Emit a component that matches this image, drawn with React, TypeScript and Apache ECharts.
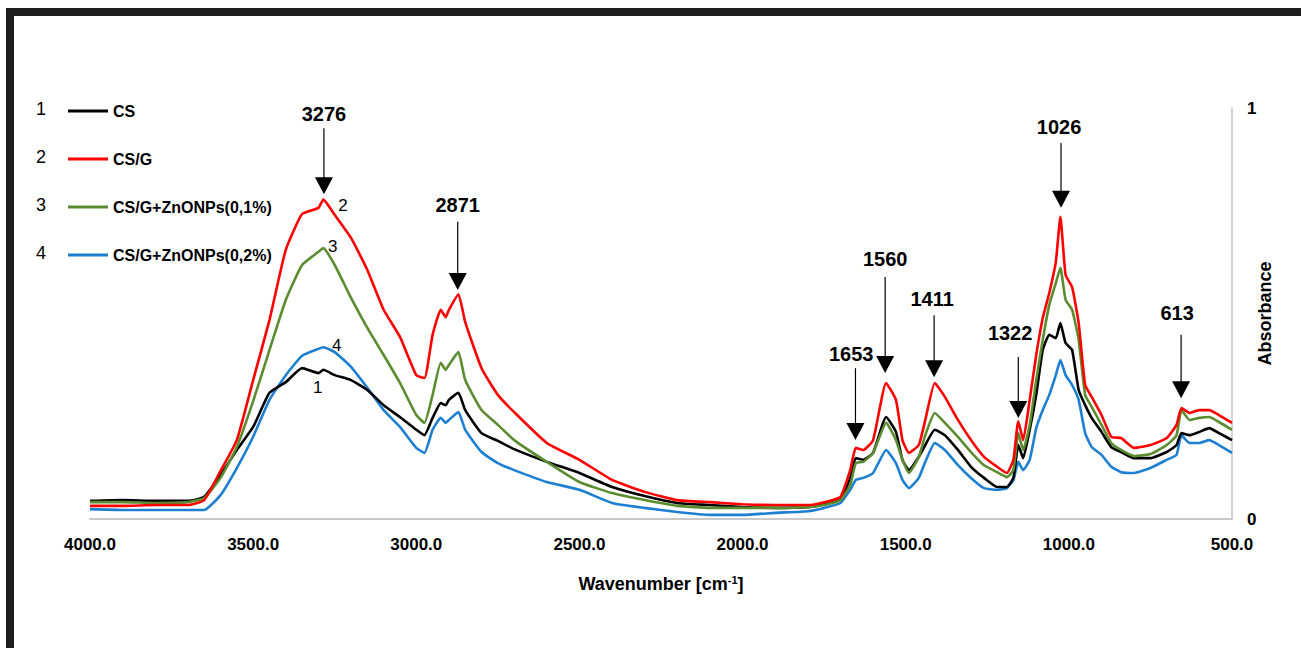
import React, { useEffect, useRef } from "react";
import * as echarts from "echarts";

const wavenumbers = [4000, 3900, 3800, 3700, 3650, 3600, 3550, 3500, 3450, 3400, 3350, 3300, 3285, 3250, 3200, 3150, 3100, 3050, 3000, 2975, 2950, 2925, 2910, 2900, 2871, 2850, 2800, 2750, 2700, 2600, 2500, 2400, 2300, 2200, 2100, 2000, 1900, 1800, 1750, 1700, 1670, 1653, 1630, 1600, 1560, 1530, 1510, 1490, 1460, 1440, 1411, 1380, 1340, 1300, 1260, 1220, 1190, 1170, 1155, 1140, 1120, 1100, 1080, 1060, 1040, 1026, 1010, 990, 970, 950, 930, 900, 870, 840, 800, 750, 700, 670, 655, 630, 600, 570, 540, 500];

const csValues = [0.044, 0.046, 0.044, 0.044, 0.054, 0.107, 0.168, 0.224, 0.307, 0.333, 0.367, 0.355, 0.363, 0.350, 0.338, 0.314, 0.277, 0.248, 0.217, 0.204, 0.246, 0.282, 0.277, 0.290, 0.307, 0.265, 0.209, 0.190, 0.170, 0.139, 0.112, 0.078, 0.056, 0.039, 0.034, 0.029, 0.027, 0.029, 0.036, 0.049, 0.100, 0.148, 0.144, 0.161, 0.248, 0.212, 0.144, 0.119, 0.151, 0.180, 0.217, 0.204, 0.168, 0.127, 0.100, 0.078, 0.078, 0.100, 0.180, 0.148, 0.217, 0.302, 0.411, 0.448, 0.440, 0.477, 0.428, 0.411, 0.314, 0.277, 0.246, 0.212, 0.175, 0.163, 0.148, 0.148, 0.163, 0.180, 0.209, 0.204, 0.212, 0.221, 0.209, 0.192];

const csgValues = [0.032, 0.032, 0.034, 0.034, 0.046, 0.117, 0.192, 0.338, 0.484, 0.655, 0.742, 0.757, 0.777, 0.740, 0.684, 0.606, 0.509, 0.443, 0.350, 0.343, 0.448, 0.509, 0.491, 0.509, 0.547, 0.479, 0.367, 0.302, 0.260, 0.185, 0.144, 0.095, 0.066, 0.046, 0.041, 0.036, 0.034, 0.034, 0.041, 0.054, 0.119, 0.173, 0.168, 0.192, 0.331, 0.290, 0.192, 0.161, 0.180, 0.241, 0.331, 0.297, 0.241, 0.192, 0.151, 0.127, 0.112, 0.144, 0.238, 0.192, 0.290, 0.399, 0.489, 0.550, 0.625, 0.735, 0.594, 0.564, 0.477, 0.326, 0.297, 0.253, 0.200, 0.197, 0.173, 0.180, 0.197, 0.229, 0.270, 0.258, 0.265, 0.265, 0.253, 0.234];

const zn01Values = [0.041, 0.041, 0.039, 0.041, 0.051, 0.100, 0.175, 0.287, 0.411, 0.533, 0.618, 0.650, 0.659, 0.618, 0.538, 0.465, 0.399, 0.331, 0.253, 0.234, 0.302, 0.380, 0.363, 0.375, 0.406, 0.338, 0.265, 0.229, 0.192, 0.139, 0.090, 0.063, 0.046, 0.032, 0.027, 0.027, 0.027, 0.029, 0.034, 0.046, 0.083, 0.136, 0.139, 0.161, 0.234, 0.192, 0.144, 0.112, 0.151, 0.204, 0.258, 0.234, 0.200, 0.163, 0.131, 0.114, 0.102, 0.119, 0.209, 0.168, 0.229, 0.338, 0.436, 0.521, 0.574, 0.611, 0.533, 0.509, 0.436, 0.302, 0.273, 0.229, 0.185, 0.168, 0.153, 0.158, 0.180, 0.204, 0.265, 0.241, 0.246, 0.248, 0.236, 0.217];

const zn02Values = [0.024, 0.022, 0.022, 0.022, 0.022, 0.058, 0.124, 0.200, 0.290, 0.350, 0.397, 0.414, 0.418, 0.406, 0.370, 0.319, 0.265, 0.224, 0.173, 0.161, 0.217, 0.246, 0.234, 0.241, 0.260, 0.217, 0.163, 0.136, 0.119, 0.090, 0.071, 0.039, 0.027, 0.017, 0.010, 0.010, 0.015, 0.019, 0.027, 0.039, 0.071, 0.095, 0.100, 0.112, 0.168, 0.136, 0.095, 0.075, 0.100, 0.139, 0.185, 0.168, 0.131, 0.100, 0.075, 0.071, 0.075, 0.095, 0.139, 0.119, 0.144, 0.221, 0.265, 0.302, 0.350, 0.387, 0.350, 0.326, 0.290, 0.209, 0.175, 0.156, 0.127, 0.114, 0.112, 0.124, 0.144, 0.156, 0.204, 0.185, 0.185, 0.192, 0.180, 0.161];

const seriesNames = ["CS", "CS/G", "CS/G+ZnONPs(0,1%)", "CS/G+ZnONPs(0,2%)"];
const seriesColors = ["#000000", "#ff0000", "#5b8c2f", "#1c7fd2"];
const legendNumbers = ["1", "2", "3", "4"];

const xTicks = { min: 500, max: 4000, interval: 500 };
const yTicks = { min: 0, max: 1, interval: 1 };

// peak annotations
const annLabels = ["3276", "2871", "1653", "1560", "1411", "1322", "1026", "613"];
const annX = [3283, 2873, 1654, 1563, 1413, 1155, 1024, 656];
const annTip = [0.79, 0.557, 0.192, 0.355, 0.345, 0.246, 0.757, 0.294];
const annTop = [0.951, 0.723, 0.367, 0.589, 0.496, 0.394, 0.915, 0.448];
const annTextX = [3283, 2873, 1667, 1563, 1419, 1180, 1030, 668];
const annTextY = [0.985, 0.764, 0.401, 0.633, 0.535, 0.453, 0.954, 0.501];

// curve number labels
const curveLabels = ["2", "3", "4", "1"];
const curveLabelX = [3225, 3256, 3244, 3302];
const curveLabelY = [0.762, 0.662, 0.423, 0.321];

const FONT = "Arial, 'Liberation Sans', sans-serif";

export default function App() {
  const ref = useRef<HTMLDivElement>(null);
  useEffect(() => {
    if (!ref.current) return;
    const chart = echarts.init(ref.current, null, { renderer: "svg" });
    const valueSets = [csValues, csgValues, zn01Values, zn02Values];
    const zOrder = [3, 5, 4, 2];
    const lineSeries = seriesNames.map((name, si) => ({
      name,
      type: "line",
      data: wavenumbers.map((w, i) => [w, valueSets[si][i]]),
      showSymbol: false,
      symbol: "none",
      smooth: 0.15,
      z: zOrder[si],
      lineStyle: { color: seriesColors[si], width: 2.6 },
      itemStyle: { color: seriesColors[si] },
      emphasis: { disabled: true },
    }));

    const option: any = {
      animation: false,
      backgroundColor: "#ffffff",
      grid: { left: 90, right: 69, top: 108, bottom: 129, containLabel: false },
      legend: {
        orient: "vertical",
        left: 68,
        top: 103,
        padding: 0,
        itemGap: 32,
        itemWidth: 40,
        itemHeight: 3,
        icon: "rect",
        data: seriesNames,
        textStyle: { fontFamily: FONT, fontWeight: "bold", fontSize: 16, color: "#000" },
      },
      xAxis: {
        type: "value",
        inverse: true,
        min: xTicks.min,
        max: xTicks.max,
        interval: xTicks.interval,
        name: "Wavenumber [cm{sup|-1}]",
        nameLocation: "middle",
        nameGap: 55,
        nameTextStyle: {
          fontFamily: FONT,
          fontWeight: "bold",
          fontSize: 18,
          color: "#000",
          rich: {
            sup: { fontFamily: FONT, fontWeight: "bold", fontSize: 11, color: "#000", verticalAlign: "top", padding: [0, 0, 8, 0] },
          },
        },
        axisLine: { show: true, lineStyle: { color: "#c8c8c8", width: 2 } },
        axisTick: { show: false },
        splitLine: { show: false },
        axisLabel: {
          margin: 17,
          fontFamily: FONT,
          fontWeight: "bold",
          fontSize: 17,
          color: "#000",
          formatter: (v: number) => v.toFixed(1),
        },
      },
      yAxis: {
        type: "value",
        position: "right",
        min: yTicks.min,
        max: yTicks.max,
        interval: yTicks.interval,
        name: "Absorbance",
        nameLocation: "middle",
        nameGap: 24,
        nameMoveOverlap: false,
        nameTextStyle: { fontFamily: FONT, fontWeight: "bold", fontSize: 18, color: "#000" },
        axisLine: { show: true, lineStyle: { color: "#d4d4d4", width: 2 } },
        axisTick: { show: false },
        splitLine: { show: false },
        axisLabel: { margin: 15, fontFamily: FONT, fontWeight: "bold", fontSize: 17, color: "#000" },
      },
      graphic: [
        { type: "rect", shape: { x: 6, y: 8, width: 1295, height: 8 }, style: { fill: "#1e1e1e" } },
        { type: "rect", shape: { x: 6, y: 8, width: 8, height: 640 }, style: { fill: "#1e1e1e" } },
        ...legendNumbers.map((n, i) => ({
          type: "text",
          x: 41,
          y: 109 + i * 48,
          style: { text: n, fill: "#000", font: `18px ${FONT}`, align: "center", verticalAlign: "middle" },
        })),
      ],
      series: [
        ...lineSeries,
        {
          type: "custom",
          name: "annotations",
          clip: false,
          silent: true,
          z: 10,
          data: annX.map((x, i) => [x, annTip[i]]),
          renderItem: (params: any, api: any) => {
            const i = params.dataIndex;
            const tip = api.coord([annX[i], annTip[i]]);
            const top = api.coord([annX[i], annTop[i]]);
            const txt = api.coord([annTextX[i], annTextY[i]]);
            return {
              type: "group",
              children: [
                {
                  type: "line",
                  shape: { x1: tip[0], y1: top[1], x2: tip[0], y2: tip[1] - 15 },
                  style: { stroke: "#000", lineWidth: 1.2 },
                },
                {
                  type: "polygon",
                  shape: { points: [[tip[0] - 9, tip[1] - 17], [tip[0] + 9, tip[1] - 17], [tip[0], tip[1]]] },
                  style: { fill: "#000" },
                },
                {
                  type: "text",
                  x: txt[0],
                  y: txt[1],
                  style: { text: annLabels[i], fill: "#000", font: `bold 20px ${FONT}`, align: "center", verticalAlign: "middle" },
                },
              ],
            };
          },
        },
        {
          type: "custom",
          name: "curveLabels",
          clip: false,
          silent: true,
          z: 10,
          data: curveLabelX.map((x, i) => [x, curveLabelY[i]]),
          renderItem: (params: any, api: any) => {
            const i = params.dataIndex;
            const p = api.coord([curveLabelX[i], curveLabelY[i]]);
            return {
              type: "text",
              x: p[0],
              y: p[1],
              style: { text: curveLabels[i], fill: "#000", font: `17px ${FONT}`, align: "center", verticalAlign: "middle" },
            };
          },
        },
      ],
    };
    chart.setOption(option);
    return () => chart.dispose();
  }, []);

  return (
    <div
      ref={ref}
      style={{ position: "fixed", left: 0, top: 0, width: 1301, height: 648, background: "#fff" }}
    />
  );
}
